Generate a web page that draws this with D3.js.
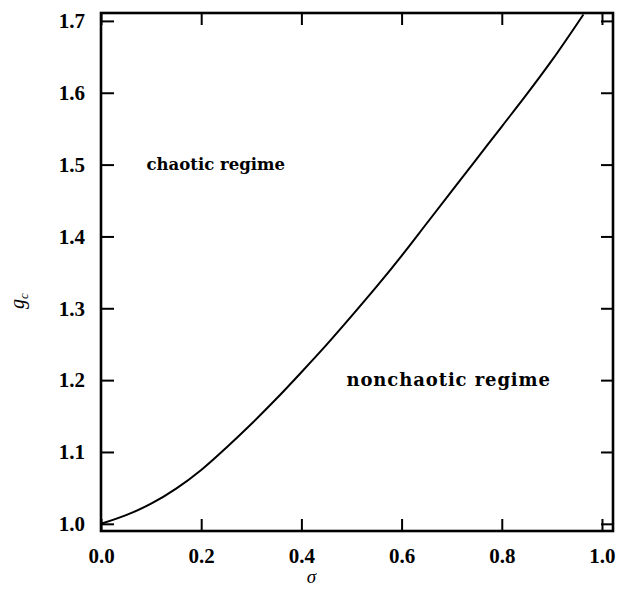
<!DOCTYPE html>
<html>
<head>
<meta charset="utf-8">
<script src="https://cdn.jsdelivr.net/npm/d3@7"></script>
<style>
  html, body { margin: 0; padding: 0; background: #fff; }
  svg { display: block; }
</style>
</head>
<body>
<svg id="chart" width="617" height="596"></svg>
<script>
// Data
const sigma = [0, 0.05, 0.1, 0.15, 0.2, 0.25, 0.3, 0.35, 0.4, 0.45, 0.5, 0.55, 0.6, 0.65, 0.7, 0.75, 0.8, 0.85, 0.9, 0.963];
const gc    = [1.0, 1.012, 1.028, 1.049, 1.075, 1.106, 1.139, 1.174, 1.211, 1.249, 1.289, 1.330, 1.373, 1.418, 1.463, 1.508, 1.553, 1.598, 1.645, 1.709];
const xTicks = [0, 0.2, 0.4, 0.6, 0.8, 1.0];
const yTicks = [1.0, 1.1, 1.2, 1.3, 1.4, 1.5, 1.6, 1.7];
const regionLabels = ["chaotic regime", "nonchaotic regime"];
const regionPos = [[0.091, 1.5], [0.49, 1.2]];

const svg = d3.select("#chart");
const mLeft = 101, mRight = 613, mTop = 13, mBottom = 531;

const x = d3.scaleLinear().domain([0, 1.022]).range([mLeft, mRight]);
const y = d3.scaleLinear().domain([0.99, 1.711]).range([mBottom, mTop]);

const tickFont = "'Liberation Serif', serif";
const axisW = 2.6;

// Frame
svg.append("rect")
  .attr("x", mLeft).attr("y", mTop)
  .attr("width", mRight - mLeft).attr("height", mBottom - mTop)
  .attr("fill", "none").attr("stroke", "#000").attr("stroke-width", axisW);

// Bottom axis
const xAxis = d3.axisBottom(x).tickValues(xTicks).tickFormat(d3.format(".1f"))
  .tickSizeInner(-12).tickSizeOuter(0).tickPadding(17);
const gx = svg.append("g").attr("transform", `translate(0,${mBottom})`).call(xAxis);
gx.select(".domain").remove();
gx.selectAll(".tick line").attr("stroke-width", 2);
gx.selectAll("text").attr("font-family", tickFont).attr("font-weight", "bold")
  .attr("font-size", 21).attr("fill", "#000");

// Top ticks
const gxt = svg.append("g").attr("transform", `translate(0,${mTop})`)
  .call(d3.axisTop(x).tickValues(xTicks).tickSizeInner(-12).tickSizeOuter(0).tickFormat(""));
gxt.select(".domain").remove();
gxt.selectAll(".tick line").attr("stroke-width", 2);

// Left axis
const yAxis = d3.axisLeft(y).tickValues(yTicks).tickFormat(d3.format(".1f"))
  .tickSizeInner(-13).tickSizeOuter(0).tickPadding(16);
const gy = svg.append("g").attr("transform", `translate(${mLeft},0)`).call(yAxis);
gy.select(".domain").remove();
gy.selectAll(".tick line").attr("stroke-width", 2);
gy.selectAll("text").attr("font-family", tickFont).attr("font-weight", "bold")
  .attr("font-size", 21).attr("fill", "#000");

// Right ticks
const gyr = svg.append("g").attr("transform", `translate(${mRight},0)`)
  .call(d3.axisRight(y).tickValues(yTicks).tickSizeInner(-12).tickSizeOuter(0).tickFormat(""));
gyr.select(".domain").remove();
gyr.selectAll(".tick line").attr("stroke-width", 2);

// Curve
const pts = sigma.map((s, i) => [s, gc[i]]);
svg.append("path")
  .datum(pts)
  .attr("fill", "none").attr("stroke", "#000").attr("stroke-width", 2)
  .attr("d", d3.line().x(d => x(d[0])).y(d => y(d[1])).curve(d3.curveMonotoneX));

// Region labels
svg.selectAll("text.region").data(regionLabels).enter().append("text")
  .attr("class", "region")
  .attr("x", (d, i) => x(regionPos[i][0]))
  .attr("y", (d, i) => y(regionPos[i][1]))
  .attr("dy", "0.35em")
  .attr("font-family", "'DejaVu Serif', serif").attr("font-weight", "bold")
  .attr("font-size", (d, i) => i === 0 ? 16.5 : 18)
  .attr("letter-spacing", (d, i) => i === 0 ? 0 : 0.9)
  .attr("fill", "#000")
  .text(d => d);

// Axis titles
svg.append("text")
  .attr("x", x(0.42)).attr("y", 583)
  .attr("text-anchor", "middle")
  .attr("font-family", tickFont).attr("font-style", "italic")
  .attr("font-size", 19).attr("fill", "#000")
  .text("σ");

const yl = svg.append("text")
  .attr("transform", `translate(24,${y(1.31)}) rotate(-90)`)
  .attr("text-anchor", "middle")
  .attr("font-family", tickFont).attr("font-style", "italic")
  .attr("font-size", 20).attr("fill", "#000");
yl.append("tspan").text("g");
yl.append("tspan").attr("font-size", 13).attr("dy", 4).text("c");
</script>
</body>
</html>
